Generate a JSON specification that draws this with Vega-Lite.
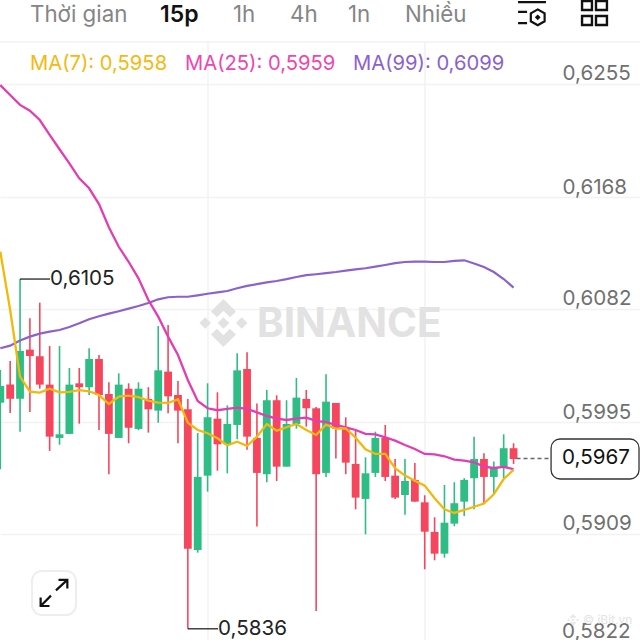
{
  "$schema": "https://vega.github.io/schema/vega-lite/v6.json",
  "width": 640,
  "height": 640,
  "autosize": "none",
  "padding": 0,
  "background": "#ffffff",
  "config": {"view": {"stroke": null}, "font": "Inter"},
  "resolve": {"axis": {"y": "independent"}},
  "datasets": {
    "candles": [
      {"i":0,"open":0.60099,"high":0.60351,"low":0.59587,"close":0.60228,"ma7":0.6126,"ma25":0.62542,"ma99":0.60518},
      {"i":1,"open":0.60238,"high":0.6042,"low":0.6002,"close":0.6013,"ma7":0.60812,"ma25":0.62465,"ma99":0.60538},
      {"i":2,"open":0.6013,"high":0.6105,"low":0.59876,"close":0.60497,"ma7":0.60299,"ma25":0.62389,"ma99":0.60578},
      {"i":3,"open":0.60507,"high":0.60748,"low":0.60028,"close":0.60458,"ma7":0.60184,"ma25":0.62345,"ma99":0.60607},
      {"i":4,"open":0.60456,"high":0.60868,"low":0.60207,"close":0.60238,"ma7":0.60176,"ma25":0.62273,"ma99":0.6063},
      {"i":5,"open":0.60238,"high":0.60535,"low":0.59728,"close":0.59838,"ma7":0.60207,"ma25":0.62158,"ma99":0.60645},
      {"i":6,"open":0.59828,"high":0.60535,"low":0.59776,"close":0.59856,"ma7":0.60179,"ma25":0.62048,"ma99":0.60658},
      {"i":7,"open":0.59859,"high":0.60366,"low":0.59859,"close":0.60238,"ma7":0.60182,"ma25":0.6194,"ma99":0.60681},
      {"i":8,"open":0.60248,"high":0.60366,"low":0.59938,"close":0.60218,"ma7":0.60195,"ma25":0.61825,"ma99":0.6071},
      {"i":9,"open":0.60218,"high":0.60518,"low":0.60158,"close":0.60435,"ma7":0.60187,"ma25":0.61748,"ma99":0.60741},
      {"i":10,"open":0.60435,"high":0.60466,"low":0.59889,"close":0.60158,"ma7":0.60158,"ma25":0.61627,"ma99":0.60764},
      {"i":11,"open":0.60166,"high":0.60256,"low":0.59549,"close":0.59859,"ma7":0.60089,"ma25":0.61448,"ma99":0.60784},
      {"i":12,"open":0.59828,"high":0.60325,"low":0.59828,"close":0.60238,"ma7":0.60145,"ma25":0.61298,"ma99":0.60802},
      {"i":13,"open":0.60207,"high":0.60248,"low":0.59787,"close":0.59907,"ma7":0.60153,"ma25":0.61183,"ma99":0.60822},
      {"i":14,"open":0.59897,"high":0.60256,"low":0.59889,"close":0.60207,"ma7":0.60141,"ma25":0.61055,"ma99":0.60843},
      {"i":15,"open":0.60128,"high":0.60218,"low":0.59869,"close":0.60048,"ma7":0.60115,"ma25":0.60889,"ma99":0.60866},
      {"i":16,"open":0.60038,"high":0.60689,"low":0.59945,"close":0.60348,"ma7":0.60099,"ma25":0.60761,"ma99":0.60894},
      {"i":17,"open":0.60338,"high":0.60697,"low":0.60018,"close":0.60148,"ma7":0.60097,"ma25":0.60607,"ma99":0.6091},
      {"i":18,"open":0.60158,"high":0.60266,"low":0.59787,"close":0.60038,"ma7":0.60125,"ma25":0.60466,"ma99":0.60914},
      {"i":19,"open":0.60048,"high":0.60128,"low":0.5836,"close":0.58976,"ma7":0.59945,"ma25":0.60274,"ma99":0.60914},
      {"i":20,"open":0.58966,"high":0.59866,"low":0.58946,"close":0.59528,"ma7":0.59889,"ma25":0.60112,"ma99":0.60925},
      {"i":21,"open":0.59538,"high":0.60248,"low":0.59415,"close":0.59987,"ma7":0.59864,"ma25":0.60056,"ma99":0.60937},
      {"i":22,"open":0.59976,"high":0.60179,"low":0.59576,"close":0.59779,"ma7":0.59825,"ma25":0.60041,"ma99":0.60948},
      {"i":23,"open":0.59779,"high":0.60079,"low":0.59556,"close":0.59935,"ma7":0.59772,"ma25":0.60051,"ma99":0.60958},
      {"i":24,"open":0.59928,"high":0.60479,"low":0.59818,"close":0.60348,"ma7":0.59799,"ma25":0.60061,"ma99":0.60979},
      {"i":25,"open":0.60358,"high":0.60487,"low":0.59738,"close":0.59838,"ma7":0.59766,"ma25":0.60051,"ma99":0.60997},
      {"i":26,"open":0.59828,"high":0.60092,"low":0.59146,"close":0.59559,"ma7":0.59838,"ma25":0.60025,"ma99":0.61011},
      {"i":27,"open":0.59549,"high":0.60197,"low":0.59487,"close":0.60118,"ma7":0.59935,"ma25":0.59997,"ma99":0.61024},
      {"i":28,"open":0.60118,"high":0.60156,"low":0.59497,"close":0.59607,"ma7":0.59884,"ma25":0.59976,"ma99":0.61035},
      {"i":29,"open":0.59607,"high":0.60118,"low":0.59607,"close":0.59935,"ma7":0.5991,"ma25":0.59966,"ma99":0.61049},
      {"i":30,"open":0.59935,"high":0.60289,"low":0.59899,"close":0.60138,"ma7":0.59935,"ma25":0.59976,"ma99":0.61066},
      {"i":31,"open":0.60128,"high":0.60197,"low":0.59915,"close":0.60056,"ma7":0.59889,"ma25":0.59984,"ma99":0.6108},
      {"i":32,"open":0.60056,"high":0.60066,"low":0.58497,"close":0.59549,"ma7":0.59851,"ma25":0.59959,"ma99":0.61087},
      {"i":33,"open":0.59559,"high":0.60318,"low":0.59528,"close":0.60107,"ma7":0.5993,"ma25":0.59949,"ma99":0.61095},
      {"i":34,"open":0.60097,"high":0.60097,"low":0.59669,"close":0.59899,"ma7":0.59899,"ma25":0.59928,"ma99":0.61104},
      {"i":35,"open":0.59899,"high":0.59987,"low":0.59549,"close":0.59638,"ma7":0.59902,"ma25":0.5991,"ma99":0.61115},
      {"i":36,"open":0.59628,"high":0.59889,"low":0.59279,"close":0.59369,"ma7":0.5983,"ma25":0.59889,"ma99":0.61124},
      {"i":37,"open":0.59359,"high":0.59679,"low":0.59087,"close":0.59556,"ma7":0.59741,"ma25":0.59859,"ma99":0.61133},
      {"i":38,"open":0.59559,"high":0.59876,"low":0.59528,"close":0.59828,"ma7":0.59705,"ma25":0.59856,"ma99":0.61145},
      {"i":39,"open":0.59828,"high":0.59928,"low":0.59497,"close":0.59528,"ma7":0.59705,"ma25":0.59833,"ma99":0.61158},
      {"i":40,"open":0.59538,"high":0.59666,"low":0.59359,"close":0.59369,"ma7":0.59595,"ma25":0.59807,"ma99":0.61172},
      {"i":41,"open":0.59389,"high":0.59666,"low":0.59238,"close":0.59497,"ma7":0.59538,"ma25":0.59774,"ma99":0.61181},
      {"i":42,"open":0.59505,"high":0.59636,"low":0.59338,"close":0.59338,"ma7":0.59499,"ma25":0.59743,"ma99":0.61184},
      {"i":43,"open":0.59333,"high":0.59387,"low":0.58818,"close":0.59107,"ma7":0.59461,"ma25":0.59705,"ma99":0.61184},
      {"i":44,"open":0.59105,"high":0.59218,"low":0.58887,"close":0.58938,"ma7":0.59364,"ma25":0.59702,"ma99":0.61181},
      {"i":45,"open":0.58938,"high":0.59466,"low":0.58907,"close":0.59176,"ma7":0.59279,"ma25":0.59687,"ma99":0.61181},
      {"i":46,"open":0.59169,"high":0.59487,"low":0.59149,"close":0.59326,"ma7":0.59251,"ma25":0.59661,"ma99":0.61189},
      {"i":47,"open":0.59338,"high":0.59518,"low":0.59228,"close":0.59505,"ma7":0.59274,"ma25":0.59653,"ma99":0.61194},
      {"i":48,"open":0.59518,"high":0.59838,"low":0.59279,"close":0.59666,"ma7":0.59299,"ma25":0.59641,"ma99":0.6117},
      {"i":49,"open":0.59666,"high":0.5971,"low":0.59326,"close":0.59528,"ma7":0.59323,"ma25":0.59607,"ma99":0.61143},
      {"i":50,"open":0.59528,"high":0.59646,"low":0.59397,"close":0.59597,"ma7":0.59395,"ma25":0.59597,"ma99":0.61104},
      {"i":51,"open":0.59597,"high":0.59856,"low":0.59518,"close":0.59749,"ma7":0.59512,"ma25":0.59605,"ma99":0.6105},
      {"i":52,"open":0.59749,"high":0.59787,"low":0.59628,"close":0.59666,"ma7":0.59582,"ma25":0.59589,"ma99":0.60984}
    ]
  },
  "layer": [
    {
      "data": {"values": [{"i":21.04,"top":0.62873,"bottom":0.58274},{"i":43.03,"top":0.62873,"bottom":0.58274}]},
      "mark": {"type": "rule", "color": "#f2f2f2", "strokeWidth": 1.5},
      "encoding": {
        "x": {"field": "i", "type": "quantitative", "axis": null, "scale": {"domain": [-0.03, 64.81], "nice": false, "zero": false, "padding": 0}},
        "y": {
          "field": "top", "type": "quantitative", "title": null,
          "scale": {"domain": [0.58274, 0.63196], "nice": false, "zero": false},
          "axis": {
            "orient": "right", "offset": -78, "values": [0.6255, 0.6168, 0.6082, 0.5995, 0.5909],
            "labelExpr": "replace(format(datum.value, '.4f'), '.', ',')",
            "domain": false, "ticks": false, "labelPadding": 0, "labelAlign": "left", "labelOffset": -10,
            "labelFontSize": 20.6, "labelColor": "#707070", "labelFont": "Inter", "labelOverlap": false, "labelBound": false, "labelFlush": false,
            "grid": true, "gridColor": "#f2f2f2", "gridWidth": 1.5
          }
        },
        "y2": {"field": "bottom"}
      }
    },
    {
      "data": {"values": [{"i":-0.03,"end":64.81,"price":0.62873}]},
      "mark": {"type": "rule", "color": "#f2f2f2", "strokeWidth": 1.5},
      "encoding": {
        "x": {"field": "i", "type": "quantitative"},
        "x2": {"field": "end"},
        "y": {"field": "price", "type": "quantitative", "axis": null}
      }
    },
    {
      "data": {"values": [{"label":"0,5822","i":56.91,"price":0.58336}]},
      "mark": {"type": "text", "align": "left", "baseline": "middle", "font": "Inter", "fontSize": 20.6, "color": "#707070"},
      "encoding": {
        "x": {"field": "i", "type": "quantitative"},
        "y": {"field": "price", "type": "quantitative", "axis": null},
        "text": {"field": "label"}
      }
    },
    {
      "data": {"values": [{"i":22.61,"price":0.60712}]},
      "mark": {"type": "point", "filled": true, "color": "#e2e2e2", "opacity": 1, "size": 2304,
        "shape": "M0 -1L.52 -.48L.27 -.24L0 -.51L-.27 -.24L-.52 -.48ZM0 1L.52 .48L.27 .24L0 .51L-.27 .24L-.52 .48ZM0 -.24L.24 0L0 .24L-.24 0ZM-1 0L-.76 -.24L-.52 0L-.76 .24ZM1 0L.76 -.24L.52 0L.76 .24Z"},
      "encoding": {
        "x": {"field": "i", "type": "quantitative"},
        "y": {"field": "price", "type": "quantitative", "axis": null}
      }
    },
    {
      "data": {"values": [{"label":"BINANCE","i":26.0,"price":0.60697}]},
      "mark": {"type": "text", "align": "left", "baseline": "middle", "font": "Inter", "fontWeight": "bold", "fontSize": 40.5, "color": "#e2e2e2"},
      "encoding": {
        "x": {"field": "i", "type": "quantitative"},
        "y": {"field": "price", "type": "quantitative", "axis": null},
        "text": {"field": "label"}
      }
    },
    {
      "data": {"name": "candles"},
      "mark": {"type": "rule", "strokeWidth": 1.6},
      "encoding": {
        "x": {"field": "i", "type": "quantitative"},
        "y": {"field": "low", "type": "quantitative", "axis": null},
        "y2": {"field": "high"},
        "color": {"condition": {"test": "datum.close >= datum.open", "value": "#2EBD85"}, "value": "#F6465D"}
      }
    },
    {
      "data": {"name": "candles"},
      "mark": {"type": "bar", "size": 7.8},
      "encoding": {
        "x": {"field": "i", "type": "quantitative"},
        "y": {"field": "open", "type": "quantitative", "axis": null},
        "y2": {"field": "close"},
        "color": {"condition": {"test": "datum.close >= datum.open", "value": "#2EBD85"}, "value": "#F6465D"}
      }
    },
    {
      "data": {"name": "candles"},
      "mark": {"type": "line", "color": "#8B62CC", "strokeWidth": 2.2},
      "encoding": {
        "x": {"field": "i", "type": "quantitative"},
        "y": {"field": "ma99", "type": "quantitative", "axis": null}
      }
    },
    {
      "data": {"name": "candles"},
      "mark": {"type": "line", "color": "#E23DB5", "strokeWidth": 2.3},
      "encoding": {
        "x": {"field": "i", "type": "quantitative"},
        "y": {"field": "ma25", "type": "quantitative", "axis": null}
      }
    },
    {
      "data": {"name": "candles"},
      "mark": {"type": "line", "color": "#F0B90B", "strokeWidth": 2.3},
      "encoding": {
        "x": {"field": "i", "type": "quantitative"},
        "y": {"field": "ma7", "type": "quantitative", "axis": null}
      }
    },
    {
      "data": {"values": [{"i":2,"end":5.04,"price":0.6105},{"i":19,"end":22.06,"price":0.5836}]},
      "mark": {"type": "rule", "color": "#111111", "strokeWidth": 1.2},
      "encoding": {
        "x": {"field": "i", "type": "quantitative"},
        "x2": {"field": "end"},
        "y": {"field": "price", "type": "quantitative", "axis": null}
      }
    },
    {
      "data": {"values": [{"label":"0,6105","i":5.04,"price":0.6105},{"label":"0,5836","i":22.06,"price":0.5836}]},
      "mark": {"type": "text", "align": "left", "baseline": "middle", "font": "Inter", "fontSize": 20.6, "color": "#222222"},
      "encoding": {
        "x": {"field": "i", "type": "quantitative"},
        "y": {"field": "price", "type": "quantitative", "axis": null},
        "text": {"field": "label"}
      }
    },
    {
      "data": {"values": [{"i":52.3,"end":55.8,"price":0.5967}]},
      "mark": {"type": "rule", "color": "#666666", "strokeWidth": 1.5, "strokeDash": [4, 3]},
      "encoding": {
        "x": {"field": "i", "type": "quantitative"},
        "x2": {"field": "end"},
        "y": {"field": "price", "type": "quantitative", "axis": null}
      }
    },
    {
      "data": {"values": [{"i":55.8,"end":64.71,"top":0.5982,"bottom":0.59512}]},
      "mark": {"type": "rect", "fill": "#ffffff", "stroke": "#333333", "strokeWidth": 1.3, "cornerRadius": 9},
      "encoding": {
        "x": {"field": "i", "type": "quantitative"},
        "x2": {"field": "end"},
        "y": {"field": "top", "type": "quantitative", "axis": null},
        "y2": {"field": "bottom"}
      }
    },
    {
      "data": {"values": [{"label":"0,5967","i":56.91,"price":0.5967}]},
      "mark": {"type": "text", "align": "left", "baseline": "middle", "font": "Inter", "fontSize": 20.6, "color": "#111111"},
      "encoding": {
        "x": {"field": "i", "type": "quantitative"},
        "y": {"field": "price", "type": "quantitative", "axis": null},
        "text": {"field": "label"}
      }
    },
    {
      "data": {"values": [{"label":"MA(7): 0,5958","i":3.01,"price":0.62704,"series":"MA(7)"},{"label":"MA(25): 0,5959","i":18.71,"price":0.62704,"series":"MA(25)"},{"label":"MA(99): 0,6099","i":35.73,"price":0.62704,"series":"MA(99)"}]},
      "mark": {"type": "text", "align": "left", "baseline": "middle", "font": "Inter", "fontSize": 20.2},
      "encoding": {
        "x": {"field": "i", "type": "quantitative"},
        "y": {"field": "price", "type": "quantitative", "axis": null},
        "text": {"field": "label"},
        "color": {"field": "series", "type": "nominal", "legend": null, "scale": {"domain": ["MA(7)", "MA(25)", "MA(99)"], "range": ["#F5B90F", "#EC47B2", "#8B62CC"]}}
      }
    },
    {
      "data": {"values": [{"label":"Thời gian","i":3.01,"price":0.63081},{"label":"1h","i":23.58,"price":0.63081},{"label":"4h","i":29.35,"price":0.63081},{"label":"1n","i":35.23,"price":0.63081},{"label":"Nhiều","i":41.0,"price":0.63081}]},
      "mark": {"type": "text", "align": "left", "baseline": "middle", "font": "Inter", "fontSize": 22.3, "color": "#858585"},
      "encoding": {
        "x": {"field": "i", "type": "quantitative"},
        "y": {"field": "price", "type": "quantitative", "axis": null},
        "text": {"field": "label"}
      }
    },
    {
      "data": {"values": [{"label":"15p","i":16.18,"price":0.63081}]},
      "mark": {"type": "text", "align": "left", "baseline": "middle", "font": "Inter", "fontWeight": 600, "fontSize": 23, "color": "#111111"},
      "encoding": {
        "x": {"field": "i", "type": "quantitative"},
        "y": {"field": "price", "type": "quantitative", "axis": null},
        "text": {"field": "label"}
      }
    },
    {
      "data": {"values": [{"i":53.87,"price":0.63096}]},
      "mark": {"type": "point", "filled": false, "color": "#111111", "opacity": 1, "strokeWidth": 2.2, "size": 900,
        "shape": "M-.93 -.73H.93M-.93 -.07H-.33M-.93 .67H-.33M.38 -.24L.84 .02L.84 .55L.38 .82L-.08 .55L-.08 .02ZM.38 .2L.47 .29L.38 .38L.29 .29Z"},
      "encoding": {
        "x": {"field": "i", "type": "quantitative"},
        "y": {"field": "price", "type": "quantitative", "axis": null}
      }
    },
    {
      "data": {"values": [{"i":60.2,"price":0.63096}]},
      "mark": {"type": "point", "filled": false, "color": "#111111", "opacity": 1, "strokeWidth": 2.4, "size": 900,
        "shape": "M-.83 -.8H-.17V-.2H-.83ZM.1 -.8H.83V-.2H.1ZM-.83 .2H-.17V.8H-.83ZM.1 .2H.83V.8H.1Z"},
      "encoding": {
        "x": {"field": "i", "type": "quantitative"},
        "y": {"field": "price", "type": "quantitative", "axis": null}
      }
    },
    {
      "data": {"values": [{"i":3.21,"end":7.67,"top":0.58805,"bottom":0.58467}]},
      "mark": {"type": "rect", "fill": "#ffffff", "stroke": "#eeeeee", "strokeWidth": 2, "cornerRadius": 10},
      "encoding": {
        "x": {"field": "i", "type": "quantitative"},
        "x2": {"field": "end"},
        "y": {"field": "top", "type": "quantitative", "axis": null},
        "y2": {"field": "bottom"}
      }
    },
    {
      "data": {"values": [{"i":5.44,"price":0.58636}]},
      "mark": {"type": "point", "filled": false, "color": "#111111", "opacity": 1, "strokeWidth": 2.2, "size": 900,
        "shape": "M-.89 .87L-.2 .18M.13 -.17L.89 -.87M-.89 .3V.87H-.3M.3 -.87H.89V-.3"},
      "encoding": {
        "x": {"field": "i", "type": "quantitative"},
        "y": {"field": "price", "type": "quantitative", "axis": null}
      }
    },
    {
      "data": {"values": [{"i":58.03,"price":0.58428}]},
      "mark": {"type": "point", "filled": true, "color": "#e8e8e8", "opacity": 1, "size": 144,
        "shape": "M0 -1L.52 -.48L.27 -.24L0 -.51L-.27 -.24L-.52 -.48ZM0 1L.52 .48L.27 .24L0 .51L-.27 .24L-.52 .48ZM0 -.24L.24 0L0 .24L-.24 0ZM-1 0L-.76 -.24L-.52 0L-.76 .24ZM1 0L.76 -.24L.52 0L.76 .24Z"},
      "encoding": {
        "x": {"field": "i", "type": "quantitative"},
        "y": {"field": "price", "type": "quantitative", "axis": null}
      }
    },
    {
      "data": {"values": [{"label":"© iBit.vn","i":59.04,"price":0.58428}]},
      "mark": {"type": "text", "align": "left", "baseline": "middle", "font": "Inter", "fontSize": 12, "color": "#e4e4e4"},
      "encoding": {
        "x": {"field": "i", "type": "quantitative"},
        "y": {"field": "price", "type": "quantitative", "axis": null},
        "text": {"field": "label"}
      }
    }
  ]
}
